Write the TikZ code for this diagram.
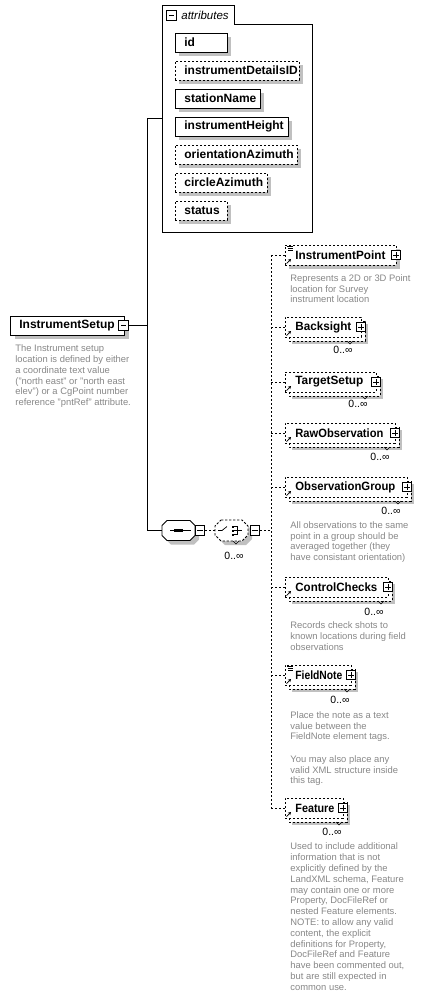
\documentclass[tikz,border=0pt]{standalone}
\usepackage{fontspec}
\usepackage{graphicx}
\setmainfont{Liberation Sans}
\usetikzlibrary{arrows.meta}
\definecolor{shcol}{RGB}{192,192,192}
\definecolor{desccol}{RGB}{135,135,135}
\newcommand{\lblfont}{\fontsize{12}{14}\selectfont\bfseries}
\newcommand{\descfont}{\fontsize{9.4}{10.8}\selectfont}
\newcommand{\minusin}[1]{\draw[line width=0.7pt] ([xshift=2pt]#1.west) -- ([xshift=-2pt]#1.east);}
\newcommand{\plusin}[1]{\minusin{#1}\draw[line width=0.7pt] ([yshift=-2pt]#1.north) -- ([yshift=2pt]#1.south);}
% octagon path: #1 l #2 t #3 r #4 b #5 c
\newcommand{\octpath}[5]{(#1+#5,#2) -- (#3-#5,#2) -- (#3,#2+#5) -- (#3,#4-#5) -- (#3-#5,#4) -- (#1+#5,#4) -- (#1,#4-#5) -- (#1,#2+#5) -- cycle}
% #1 name #2 left #3 top #4 right #5 bottom #6 multi #7 label #8 icon #9 label width
\newcommand{\elem}[9]{%
  \ifnum#6=1
    \fill[shcol] (#2+7,#3+7) rectangle (#4+7,#5+7);
    \draw[dline, fill=white] (#2+4,#3+4) rectangle (#4+4,#5+4);
  \else
    \fill[shcol] (#2+4,#3+4) rectangle (#4+4,#5+4);
  \fi
  \node[dbox, minimum width=#4-#2, minimum height=#5-#3] (#1) at (#2,#3) {};
  \node[lbl] (#1-l) at (#2+10, #3/2+#5/2) {\resizebox{#9pt}{\height}{#7}};
  \node[pm] (#1-p) at (#4, #3/2+#5/2) {};
  \plusin{#1-p}
  \draw[-{Stealth[length=3pt,width=3.5pt]}, line width=0.7pt] (#2+1.5,#5-1.5) -- (#2+6,#5-6);
  \ifnum#8=1
    \draw[line width=0.6pt] (#2+2,#3+1.5) -- (#2+8,#3+1.5) (#2+3,#3+3.5) -- (#2+8,#3+3.5) (#2+3,#3+5.5) -- (#2+8,#3+5.5);
  \fi
}
% #1 name #2 x #3 y #4 notch x #5 notch y
\newcommand{\card}[5]{%
  \draw[line width=0.6pt] (#4-3,#5) -- (#4,#5+3) -- (#4+3,#5);
  \node[cardst] (#1-c) at (#2,#3) {0..∞};
}
% attribute: #1 name #2 top #3 right #4 solid(1)/dashed(0) #5 label
\newcommand{\attr}[5]{%
  \fill[shcol] (179,#2+4) rectangle (#3+4,#2+23);
  \ifnum#4=1
    \node[ebox, minimum width=#3-175, minimum height=19] (#1) at (175,#2) {};
  \else
    \node[dbox, minimum width=#3-175, minimum height=19] (#1) at (175,#2) {};
  \fi
  \node[lbl] (#1-l) at (184,#2+9.5) {#5};
}
\begin{document}
\begin{tikzpicture}[x=1pt,y=-1pt, line width=0.8pt,
  ebox/.style={draw, fill=white, inner sep=0, outer sep=0, anchor=north west},
  dbox/.style={ebox, dash pattern=on 2.4pt off 1.6pt},
  dline/.style={dash pattern=on 2.4pt off 1.6pt},
  lbl/.style={font=\lblfont, anchor=west, inner sep=0},
  desc/.style={font=\descfont, text=desccol, align=left, anchor=north west, inner sep=0},
  cardst/.style={font=\fontsize{10.5}{12}\selectfont, inner sep=0},
  pm/.style={draw, fill=white, minimum size=9.5pt, inner sep=0, outer sep=0},
  anchorbox/.style={inner sep=0, outer sep=0, anchor=north west}
]
\useasboundingbox (0,0) rectangle (424,1001);

% ---------- attributes group ----------
\draw[fill=white] (162,232) -- (162,5) -- (234,5) -- (234,24) -- (312,24) -- (312,232) -- cycle;
\coordinate (attr-in) at (162,118);
\node[pm] (attr-m) at (171.5,15.5) {};
\minusin{attr-m}
\node[font=\fontsize{11.5}{13}\selectfont\itshape, anchor=west, inner sep=0] (attr-t) at (181,15) {attributes};

\attr{a1}{33}{227}{1}{id}
\attr{a2}{61}{299}{0}{instrumentDetailsID}
\attr{a3}{89}{260}{1}{stationName}
\attr{a4}{117}{288}{1}{instrumentHeight}
\attr{a5}{145}{297}{0}{orientationAzimuth}
\attr{a6}{173}{267}{0}{circleAzimuth}
\attr{a7}{201}{227}{0}{status}

% ---------- root element ----------
\fill[shcol] (15,320) rectangle (129,339);
\node[ebox, minimum width=114, minimum height=19] (is) at (10,316) {};
\node[lbl] (is-l) at (19,325.5) {InstrumentSetup};
\node[pm] (is-m) at (123.5,325.5) {};
\minusin{is-m}
\node[desc] (is-d) at (15,343.7) {\strut The Instrument setup\\location is defined by either\\a coordinate text value\\("north east" or "north east\\elev") or a CgPoint number\\reference "pntRef" attribute.};

% ---------- connectors from root ----------
\coordinate (vtop) at (147,118);
\coordinate (vbot) at (147,530.5);
\draw (is-m.east) -- (is-m.east -| vtop);
\draw (vtop) -- (vbot);
\draw (vtop) -- (attr-in);

% ---------- sequence ----------
\fill[shcol] \octpath{166}{524.5}{199}{544.5}{5};
\draw[fill=white] \octpath{162}{520.5}{195}{540.5}{5};
\node[anchorbox, minimum width=33, minimum height=20] (seq) at (162,520.5) {};
\draw (vbot) -- (seq.west);
\draw (170,530.5) -- (191,530.5);
\fill (174.3,529.3) rectangle +(2.4,2.4);
\fill (177.3,529.3) rectangle +(2.4,2.4);
\fill (180.3,529.3) rectangle +(2.4,2.4);
\node[pm] (seq-m) at (200,530.5) {};
\minusin{seq-m}

% ---------- choice ----------
\fill[shcol] \octpath{219}{524}{252}{545}{6};
\draw[dline, fill=white] \octpath{215}{520}{248}{541}{6};
\node[anchorbox, minimum width=33, minimum height=21] (cho) at (215,520) {};
\draw[dline] (seq-m.east) -- (cho.west |- seq-m.east);
\draw[line width=0.7pt] (218,530.5) -- (222,530.5) -- (227,526.5);
\fill (231.5,525.5) rectangle +(2,2);
\fill (231.5,529.5) rectangle +(2,2);
\fill (231.5,533.5) rectangle +(2,2);
\draw[line width=0.7pt] (234,526.5) -- (237,526.5) -- (237,534.5) -- (234,534.5) (234,530.5) -- (242,530.5);
\draw[line width=0.6pt] (233,541) -- (236,544) -- (239,541);
\node[cardst] (cho-c) at (234,555.5) {0..∞};
\node[pm] (cho-m) at (255,530.5) {};
\minusin{cho-m}
\coordinate (vx) at (271,530.5);
\draw[dline] (cho-m.east) -- (vx);

% ---------- children ----------
\elem{ip}{285}{245}{396}{265}{0}{InstrumentPoint}{1}{90}
\node[desc] (ip-d) at (290,273.4) {\strut Represents a 2D or 3D Point\\location for Survey\\instrument location};

\elem{bs}{285}{317}{361}{337}{1}{Backsight}{0}{56}
\card{bs}{343}{350}{350}{341}

\elem{ts}{285}{372}{376}{392}{1}{TargetSetup}{0}{68}
\card{ts}{358}{404}{365}{396}

\elem{ro}{285}{423}{395}{443}{1}{RawObservation}{0}{88}
\card{ro}{380}{457}{387}{447}

\elem{og}{285}{477}{407}{497}{1}{ObservationGroup}{0}{100}
\card{og}{391}{510.5}{398}{501}
\node[desc] (og-d) at (290,520.4) {\strut All observations to the same\\point in a group should be\\averaged together (they\\have consistant orientation)};

\elem{cc}{285}{577}{388}{597}{1}{ControlChecks}{0}{82}
\card{cc}{374}{612}{381}{601}
\node[desc] (cc-d) at (290,621) {\strut Records check shots to\\known locations during field\\observations};

\elem{fn}{285}{665}{351}{685}{1}{FieldNote}{1}{47}
\card{fn}{340}{700}{347}{689}
\node[desc] (fn-d) at (290,710.4) {\strut Place the note as a text\\value between the\\FieldNote element tags.};
\node[desc] (fn-d2) at (290,754.4) {\strut You may also place any\\valid XML structure inside\\this tag.};

\elem{ft}{285}{798}{343}{818}{1}{Feature}{0}{39}
\card{ft}{332}{832}{339}{822}
\node[desc] (ft-d) at (290,842) {\strut Used to include additional\\information that is not\\explicitly defined by the\\LandXML schema, Feature\\may contain one or more\\Property, DocFileRef or\\nested Feature elements.\\NOTE: to allow any valid\\content, the explicit\\definitions for Property,\\DocFileRef and Feature\\have been commented out,\\but are still expected in\\common use.};

% ---------- choice fan-out ----------
\coordinate (vt) at (271,255);
\coordinate (vb) at (271,808);
\draw[dline] (vt) -- (vb);
\foreach \n in {ip,bs,ts,ro,og,cc,fn,ft}{
  \draw[dline] (vt |- \n.west) -- (\n.west);
}
\end{tikzpicture}
\end{document}
